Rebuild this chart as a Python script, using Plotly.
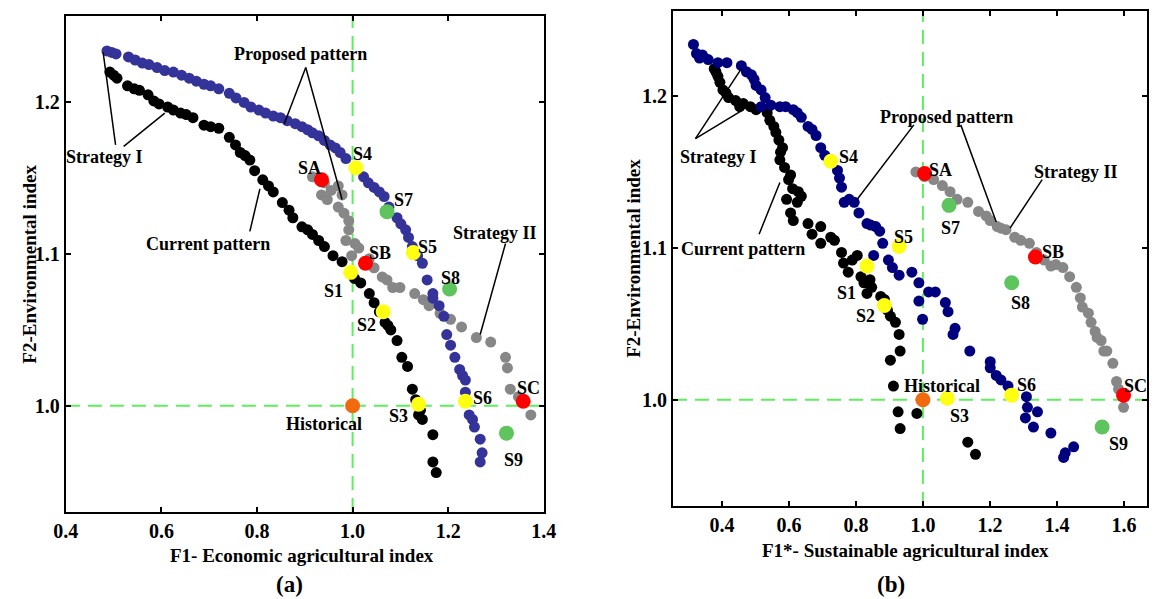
import plotly.graph_objects as go

# ---------------- Panel (a): F1 economic vs F2 environmental ----------------
a_current = [(0.492,1.220),(0.500,1.218),(0.507,1.216),(0.529,1.211),(0.543,1.209),(0.554,1.208),
             (0.572,1.205),(0.584,1.201),(0.595,1.199),(0.613,1.197),(0.625,1.195),(0.640,1.193),
             (0.652,1.192),(0.666,1.190),(0.689,1.185),(0.703,1.184),(0.720,1.183),(0.742,1.177),
             (0.755,1.172),(0.765,1.167),(0.775,1.165),(0.785,1.162),(0.795,1.155),(0.812,1.149),
             (0.824,1.145),(0.834,1.141),(0.853,1.134),(0.867,1.129),(0.875,1.124),(0.894,1.118),
             (0.906,1.116),(0.916,1.113),(0.929,1.109),(0.941,1.105),(0.959,1.099),(0.978,1.095),
             (0.996,1.088),(1.004,1.084),(1.017,1.081),(1.035,1.074),(1.045,1.068),(1.056,1.062),
             (1.068,1.055),(1.074,1.053),(1.080,1.050),(1.093,1.043),(1.103,1.032),(1.115,1.026),
             (1.125,1.011),(1.132,1.004),(1.138,0.994),(1.142,0.997),(1.146,0.991),(1.168,0.981),
             (1.168,0.963),(1.175,0.956)]
a_strategy1 = [(0.486,1.234),(0.496,1.233),(0.505,1.232),(0.531,1.230),(0.545,1.228),(0.560,1.226),
               (0.574,1.225),(0.591,1.223),(0.607,1.221),(0.625,1.220),(0.642,1.218),(0.658,1.216),
               (0.673,1.214),(0.689,1.212),(0.703,1.211),(0.720,1.209),(0.742,1.206),(0.756,1.203),
               (0.773,1.200),(0.787,1.197),(0.804,1.195),(0.818,1.193),(0.834,1.191),(0.849,1.190),
               (0.863,1.188),(0.880,1.186),(0.894,1.184),(0.906,1.182),(0.916,1.180),(0.929,1.178),
               (0.941,1.175),(0.953,1.172),(0.964,1.170),(0.974,1.167),(0.986,1.163),(1.005,1.157),
               (1.023,1.151),(1.033,1.147),(1.045,1.144),(1.056,1.141),(1.066,1.138),(1.076,1.131),
               (1.093,1.124),(1.101,1.120),(1.111,1.116),(1.117,1.111),(1.125,1.105),(1.136,1.099),
               (1.146,1.094),(1.156,1.083),(1.168,1.074),(1.168,1.071),(1.181,1.066),(1.191,1.059),
               (1.197,1.047),(1.205,1.040),(1.214,1.032),(1.224,1.024),(1.230,1.020),(1.236,1.017),
               (1.236,1.009),(1.244,0.994),(1.251,0.991),(1.255,0.986),(1.267,0.978),(1.271,0.969),
               (1.267,0.963)]
a_strategy2 = [(0.916,1.151),(0.935,1.139),(0.941,1.147),(0.947,1.136),(0.955,1.142),(0.970,1.145),
               (0.970,1.131),(0.978,1.139),(0.982,1.127),(0.992,1.122),(0.992,1.116),(0.986,1.109),
               (0.998,1.099),(1.005,1.107),(1.013,1.104),(1.035,1.097),(1.045,1.091),(1.062,1.085),
               (1.072,1.083),(1.084,1.078),(1.099,1.078),(1.130,1.074),(1.148,1.070),(1.160,1.066),
               (1.183,1.061),(1.205,1.057),(1.228,1.052),(1.259,1.045),(1.289,1.042),(1.320,1.032),
               (1.324,1.025),(1.330,1.011),(1.347,1.006),(1.373,0.994)]

# ---------------- Panel (b): F1* sustainable vs F2 environmental ----------------
b_current = [(0.377,1.218),(0.382,1.216),(0.388,1.213),(0.394,1.209),(0.403,1.204),(0.412,1.202),
             (0.420,1.199),(0.441,1.197),(0.453,1.193),(0.464,1.195),(0.485,1.193),(0.502,1.191),
             (0.535,1.189),(0.543,1.184),(0.555,1.180),(0.561,1.176),(0.570,1.171),(0.575,1.163),
             (0.581,1.166),(0.573,1.158),(0.587,1.153),(0.599,1.145),(0.605,1.148),(0.611,1.139),
             (0.628,1.137),(0.593,1.132),(0.637,1.134),(0.625,1.130),(0.605,1.123),(0.613,1.118),
             (0.657,1.116),(0.695,1.114),(0.669,1.109),(0.695,1.103),(0.725,1.107),(0.736,1.105),
             (0.757,1.097),(0.804,1.095),(0.789,1.092),(0.763,1.090),(0.777,1.084),(0.815,1.081),
             (0.842,1.079),(0.824,1.077),(0.847,1.074),(0.833,1.070),(0.874,1.068),(0.885,1.066),
             (0.894,1.059),(0.903,1.055),(0.918,1.051),(0.929,1.043),(0.932,1.032),(0.903,1.026),
             (0.912,1.009),(0.926,0.992),(0.982,0.991),(0.932,0.981),(1.134,0.972),(1.157,0.964)]
b_strategy1 = [(0.315,1.234),(0.324,1.228),(0.333,1.225),(0.342,1.227),(0.359,1.224),(0.388,1.222),
               (0.415,1.222),(0.458,1.220),(0.473,1.216),(0.488,1.214),(0.496,1.211),(0.502,1.207),
               (0.517,1.204),(0.529,1.199),(0.517,1.193),(0.546,1.194),(0.573,1.193),(0.590,1.193),
               (0.613,1.191),(0.625,1.189),(0.637,1.186),(0.657,1.180),(0.669,1.178),(0.681,1.174),
               (0.695,1.166),(0.707,1.161),(0.725,1.157),(0.745,1.151),(0.751,1.146),(0.757,1.140),
               (0.765,1.130),(0.780,1.132),(0.795,1.130),(0.809,1.123),(0.833,1.116),(0.844,1.115),
               (0.859,1.114),(0.871,1.111),(0.880,1.103),(0.853,1.095),(0.897,1.092),(0.909,1.087),
               (0.929,1.082),(0.967,1.084),(0.988,1.077),(1.017,1.071),(1.037,1.071),(0.988,1.065),
               (1.067,1.064),(1.075,1.058),(0.999,1.053),(1.096,1.047),(1.090,1.043),(1.140,1.032),
               (1.201,1.025),(1.201,1.021),(1.219,1.016),(1.233,1.013),(1.254,1.009),(1.309,1.002),
               (1.312,0.995),(1.342,0.992),(1.306,0.988),(1.330,0.982),(1.382,0.978),(1.420,0.962),
               (1.425,0.965),(1.450,0.969)]
b_strategy2 = [(0.979,1.150),(1.005,1.147),(1.032,1.145),(1.058,1.141),(1.081,1.137),(1.102,1.132),
               (1.134,1.130),(1.166,1.124),(1.189,1.121),(1.201,1.118),(1.222,1.114),(1.233,1.113),
               (1.248,1.112),(1.274,1.107),(1.292,1.105),(1.318,1.103),(1.339,1.097),(1.362,1.092),
               (1.382,1.088),(1.397,1.089),(1.418,1.087),(1.438,1.081),(1.458,1.074),(1.470,1.067),
               (1.476,1.061),(1.494,1.057),(1.502,1.051),(1.514,1.045),(1.520,1.041),(1.532,1.039),
               (1.540,1.032),(1.549,1.032),(1.567,1.024),(1.578,1.012),(1.584,1.007),(1.599,0.995)]

# ---------------- Scenario points ----------------
scen_names = ["S1", "S2", "S3", "S4", "S5", "S6", "S7", "S8", "S9", "SA", "SB", "SC", "Historical"]
scen_f1    = [0.996, 1.064, 1.138, 1.007, 1.127, 1.236, 1.072, 1.203, 1.322, 0.935, 1.027, 1.357, 1.000]
scen_f1s   = [0.833, 0.885, 1.073, 0.725, 0.929, 1.265, 1.078, 1.265, 1.535, 1.005, 1.336, 1.599, 1.000]
scen_f2    = [1.088, 1.062, 1.001, 1.157, 1.101, 1.003, 1.128, 1.077, 0.982, 1.149, 1.094, 1.003, 1.000]

x_ticks_a = [0.4, 0.6, 0.8, 1.0, 1.2, 1.4]
x_ticks_b = [0.4, 0.6, 0.8, 1.0, 1.2, 1.4, 1.6]
y_ticks = [1.0, 1.1, 1.2]

# ---------------- styling (not data) ----------------
FONT = "Liberation Serif"
scen_colors = ["#ffff14"] * 6 + ["#5ec45e"] * 3 + ["#ff0000"] * 3 + ["#f26a10"]
GREEN_DASH = "#5cf05c"

# label placements (layout)
a_label_pos = {"S1": (0.959, 1.076), "S2": (1.029, 1.053), "S3": (1.095, 0.993), "S4": (1.021, 1.166),
               "S5": (1.156, 1.105), "S6": (1.271, 1.005), "S7": (1.107, 1.136), "S8": (1.205, 1.084),
               "S9": (1.336, 0.964), "SA": (0.910, 1.157), "SB": (1.058, 1.101), "SC": (1.369, 1.012),
               "Historical": (0.941, 0.988)}
b_label_pos = {"S1": (0.771, 1.070), "S2": (0.830, 1.055), "S3": (1.108, 0.989), "S4": (0.777, 1.160),
               "S5": (0.941, 1.107), "S6": (1.309, 1.010), "S7": (1.081, 1.113), "S8": (1.292, 1.064),
               "S9": (1.584, 0.971), "SA": (1.052, 1.151), "SB": (1.388, 1.097), "SC": (1.634, 1.009),
               "Historical": (1.058, 1.009)}
a_callouts = [("Proposed pattern", (0.892, 1.232), [((0.902, 1.223), (0.857, 1.186)), ((0.902, 1.223), (0.978, 1.136))]),
              ("Strategy I", (0.480, 1.164), [((0.504, 1.172), (0.478, 1.233)), ((0.521, 1.171), (0.607, 1.193))]),
              ("Current pattern", (0.697, 1.107), [((0.785, 1.115), (0.806, 1.143))]),
              ("Strategy II", (1.298, 1.114), [((1.320, 1.107), (1.267, 1.047))])]
b_callouts = [("Proposed pattern", (1.070, 1.186), [((0.973, 1.181), (0.804, 1.132)), ((1.113, 1.181), (1.219, 1.117))]),
              ("Strategy I", (0.388, 1.160), [((0.321, 1.172), (0.458, 1.218)), ((0.321, 1.172), (0.464, 1.191))]),
              ("Current pattern", (0.464, 1.099), [((0.511, 1.109), (0.573, 1.143))]),
              ("Strategy II", (1.458, 1.150), [((1.356, 1.145), (1.260, 1.113))])]

fig = go.Figure()


def add_cloud(pts, color, xa, ya):
    fig.add_trace(go.Scatter(x=[p[0] for p in pts], y=[p[1] for p in pts], mode="markers",
                             marker=dict(color=color, size=11, line=dict(width=0)),
                             xaxis=xa, yaxis=ya, showlegend=False, hoverinfo="x+y"))


add_cloud(a_strategy2, "#878787", "x", "y")
add_cloud(a_current, "#000000", "x", "y")
add_cloud(a_strategy1, "#33339a", "x", "y")
add_cloud(b_strategy2, "#878787", "x2", "y2")
add_cloud(b_current, "#000000", "x2", "y2")
add_cloud(b_strategy1, "#00007f", "x2", "y2")

for xs, xa, ya in [(scen_f1, "x", "y"), (scen_f1s, "x2", "y2")]:
    fig.add_trace(go.Scatter(x=xs, y=scen_f2, mode="markers", text=scen_names,
                             marker=dict(color=scen_colors, size=15, line=dict(width=0)),
                             xaxis=xa, yaxis=ya, showlegend=False))

shapes = []
annotations = []
lab_font = dict(family=FONT, size=18, color="black", weight="bold")
for xa, ya, lpos, callouts in [("x", "y", a_label_pos, a_callouts), ("x2", "y2", b_label_pos, b_callouts)]:
    # dashed reference lines through the historical point (1, 1)
    shapes.append(dict(type="line", xref=xa, yref=ya + " domain", x0=1.0, x1=1.0, y0=0, y1=1,
                       line=dict(color=GREEN_DASH, width=2, dash="14px,8px"), layer="below"))
    shapes.append(dict(type="line", xref=xa + " domain", yref=ya, x0=0, x1=1, y0=1.0, y1=1.0,
                       line=dict(color=GREEN_DASH, width=2, dash="14px,8px"), layer="below"))
    for name in scen_names:
        px, py = lpos[name]
        annotations.append(dict(x=px, y=py, xref=xa, yref=ya, text=name, showarrow=False, font=lab_font,
                                xanchor="center", yanchor="middle"))
    for text, (tx, ty), lines in callouts:
        annotations.append(dict(x=tx, y=ty, xref=xa, yref=ya, text=text, showarrow=False, font=lab_font,
                                xanchor="center", yanchor="middle"))
        for (x0, y0), (x1, y1) in lines:
            shapes.append(dict(type="line", xref=xa, yref=ya, x0=x0, y0=y0, x1=x1, y1=y1,
                               line=dict(color="black", width=1.5)))

title_font = dict(family=FONT, size=19, color="black", weight="bold")
paper_kw = dict(xref="paper", yref="paper", showarrow=False, xanchor="center", yanchor="middle")
annotations += [
    dict(paper_kw, x=296 / 1159, y=1 - 555 / 599, text="F1- Economic agricultural index", font=title_font),
    dict(paper_kw, x=912 / 1159, y=1 - 550 / 599, text="F1*- Sustainable agricultural index", font=title_font),
    dict(paper_kw, x=17 / 1159, y=1 - 264 / 599, text="F2-Environmental index", textangle=-90, font=title_font),
    dict(paper_kw, x=634 / 1159, y=1 - 258 / 599, text="F2-Environmental index", textangle=-90, font=title_font),
    dict(paper_kw, x=283 / 1159, y=1 - 584 / 599, text="(a)",
         font=dict(family=FONT, size=23, color="black", weight="bold")),
    dict(paper_kw, x=898 / 1159, y=1 - 584 / 599, text="(b)",
         font=dict(family=FONT, size=23, color="black", weight="bold")),
]

axis_common = dict(showgrid=False, zeroline=False, showline=True, linecolor="black", linewidth=2,
                   mirror="ticks", ticks="inside", ticklen=5, tickwidth=1.5, tickcolor="black",
                   tickfont=dict(family=FONT, size=20, color="black", weight="bold"), tickformat=".1f")

fig.update_layout(
    width=1159, height=599, margin=dict(l=0, r=0, t=0, b=0),
    paper_bgcolor="white", plot_bgcolor="white",
    xaxis=dict(axis_common, domain=[55 / 1159, 543 / 1159], range=[0.4, 1.4], tickvals=x_ticks_a, anchor="y"),
    yaxis=dict(axis_common, domain=[1 - 512 / 599, 1 - 16 / 599], range=[0.930, 1.257], tickvals=y_ticks, anchor="x"),
    xaxis2=dict(axis_common, domain=[675 / 1159, 1.0], range=[0.254, 1.669], tickvals=x_ticks_b, anchor="y2"),
    yaxis2=dict(axis_common, domain=[1 - 506 / 599, 1 - 11 / 599], range=[0.930, 1.256], tickvals=y_ticks, anchor="x2"),
    shapes=shapes, annotations=annotations, showlegend=False,
)

fig.write_html("out.html")
